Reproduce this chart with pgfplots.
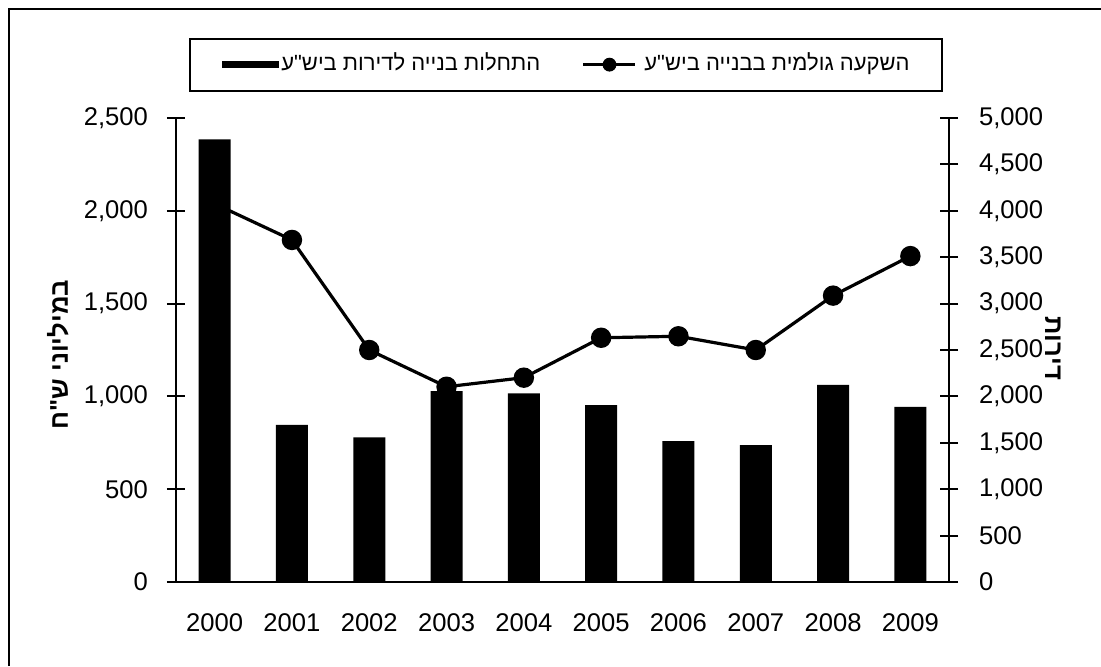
\documentclass[border=0pt]{standalone}
\usepackage{fontspec}
\setmainfont{Liberation Sans}
\newfontfamily\heb[Script=Hebrew]{Liberation Sans}
\TeXXeTstate=1
\usepackage{pgfplots}
\pgfplotsset{compat=1.18}
\newcommand{\fs}{\fontsize{12.8}{15}\selectfont}
\newcommand{\fl}{\fontsize{11}{13}\selectfont}
\begin{document}
\begin{tikzpicture}
% canvas: 1 px = 0.5pt, axis origin at px (176,582)
\path[use as bounding box] (-88pt,-42pt) rectangle (462.5pt,291pt);
\draw[line width=0.9pt] (-83.5pt,-42pt) -- (-83.5pt,286.5pt) -- (462.5pt,286.5pt);

\pgfplotsset{
  base/.style={
    scale only axis, width=386.5pt, height=232pt,
    xmin=-0.5, xmax=9.5,
    axis line style={line width=1pt},
    tick style={line width=1pt, black},
    tick align=center,
    /pgf/number format/assume math mode=true,
    /pgf/number format/1000 sep={,},
    tick label style={font=\fs},
  },
}

% line: investment, millions NIS (left axis)
\begin{axis}[base,
  axis x line*=bottom, axis y line*=left,
  ymin=0, ymax=2500, ytick={0,500,...,2500},
  major tick length=9pt,
  xtick={0,...,9}, xticklabels={2000,2001,2002,2003,2004,2005,2006,2007,2008,2009},
  x tick style={draw=none},
  minor xtick={-0.5,0.5,...,9.5},
  minor x tick style={line width=1pt}, minor tick length=8pt,
  xticklabel style={yshift=-8pt},
  yticklabel style={xshift=-6pt},
  ylabel={\heb\bfseries\beginR במיליוני ש"ח\endR},
  every axis y label/.style={at={(axis description cs:-0.1527,0.49)}, rotate=90, anchor=center, font=\fs},
]
\addplot[black, line width=1.6pt, mark=*, mark size=4.3pt] coordinates {
  (0,2038) (1,1843) (2,1250) (3,1052) (4,1101)
  (5,1316) (6,1324) (7,1250) (8,1543) (9,1756)
};
\end{axis}

% bars: housing starts, apartments (right axis)
\begin{axis}[base,
  axis x line=none, axis y line*=right,
  ymin=0, ymax=5000, ytick={0,500,...,5000},
  major tick length=9pt,
  yticklabel style={xshift=7pt},
  ylabel={\heb\bfseries\beginR דירות\endR},
  every axis y label/.style={at={(axis description cs:1.1345,0.504)}, rotate=-90, anchor=center, font=\fs},
  legend columns=2,
  legend style={at={(axis description cs:0.5045,1.115)}, anchor=center,
    draw=black, line width=0.9pt, font=\fl,
    inner xsep=16pt, inner ysep=7pt,
    nodes={inner sep=0pt, text height=9pt, text depth=3pt},
    /tikz/every odd column/.append style={column sep=1pt},
    /tikz/every even column/.append style={column sep=21pt},
  },
]
\addplot[ybar, bar width=16pt, fill=black, draw=none,
  legend image code/.code={\fill[black] (0pt,-1.75pt) rectangle (28.5pt,1.75pt);}]
  coordinates {
  (0,4770) (1,1692) (2,1559) (3,2058) (4,2033)
  (5,1907) (6,1519) (7,1476) (8,2123) (9,1886)
};
\addlegendentry{\heb\beginR התחלות בנייה לדירות ביש"ע\endR}
\addlegendimage{legend image code/.code={\draw[black, line width=1.2pt] (0pt,0pt) -- (26pt,0pt); \fill[black] (13pt,0pt) circle (3pt); \path (29pt,0pt);}}
\addlegendentry{\heb\beginR השקעה גולמית בבנייה ביש"ע\endR}
\end{axis}
\end{tikzpicture}
\end{document}
